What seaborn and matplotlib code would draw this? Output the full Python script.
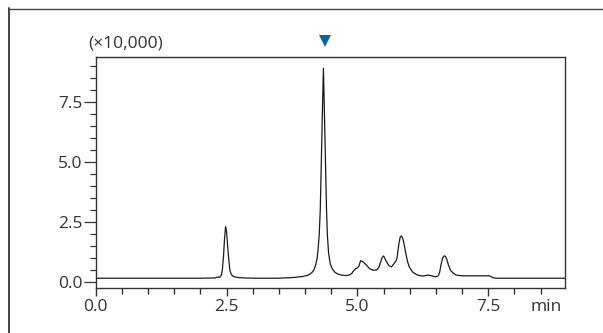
import matplotlib
matplotlib.use("Agg")
import matplotlib.pyplot as plt
import matplotlib.transforms as mtransforms
import seaborn as sns
import pandas as pd
from matplotlib.ticker import MultipleLocator, FixedLocator
from matplotlib.lines import Line2D

# Chromatogram (time in min, intensity in x10,000)
time_min = [
    0.00, 1.00, 2.00, 2.28, 2.31, 2.34, 2.37, 2.40, 2.42, 2.44, 2.46, 2.48,
    2.50, 2.52, 2.54, 2.56, 2.58, 2.61, 2.66, 2.76, 3.00, 3.50, 3.78, 3.95,
    4.05, 4.12, 4.17, 4.20, 4.23, 4.25, 4.27, 4.29, 4.305, 4.32, 4.335, 4.35,
    4.365, 4.38, 4.395, 4.41, 4.425, 4.45, 4.48, 4.52, 4.57, 4.63, 4.70, 4.78,
    4.84, 4.89, 4.92, 4.96, 5.00, 5.03, 5.06, 5.09, 5.12, 5.17, 5.23, 5.30,
    5.37, 5.41, 5.44, 5.47, 5.50, 5.52, 5.55, 5.60, 5.65, 5.70, 5.74, 5.76,
    5.78, 5.80, 5.82, 5.84, 5.86, 5.88, 5.90, 5.93, 5.96, 5.99, 6.05, 6.10,
    6.15, 6.25, 6.34, 6.40, 6.49, 6.54, 6.57, 6.60, 6.63, 6.66, 6.68, 6.71,
    6.74, 6.78, 6.83, 6.88, 6.95, 7.03, 7.30, 7.51, 7.55, 7.58, 7.64, 8.00,
    8.96,
]
intensity = [
    0.17, 0.17, 0.17, 0.18, 0.21, 0.22, 0.21, 0.30, 0.55, 1.05, 1.80, 2.32,
    2.10, 1.50, 0.98, 0.55, 0.38, 0.27, 0.22, 0.19, 0.17, 0.17, 0.20, 0.24,
    0.29, 0.38, 0.52, 0.70, 1.00, 1.40, 2.00, 3.00, 4.50, 6.00, 7.50, 8.92,
    7.50, 6.00, 4.50, 3.00, 2.00, 1.20, 0.78, 0.55, 0.42, 0.34, 0.30, 0.28,
    0.30, 0.36, 0.46, 0.56, 0.60, 0.68, 0.90, 0.88, 0.83, 0.72, 0.57, 0.50,
    0.52, 0.62, 0.82, 1.02, 1.10, 1.02, 0.88, 0.70, 0.64, 0.78, 0.90, 1.05,
    1.40, 1.70, 1.90, 1.93, 1.86, 1.72, 1.50, 1.15, 0.85, 0.65, 0.44, 0.36,
    0.30, 0.26, 0.30, 0.28, 0.23, 0.26, 0.40, 0.75, 1.02, 1.10, 1.09, 0.95,
    0.72, 0.50, 0.38, 0.31, 0.28, 0.27, 0.27, 0.27, 0.25, 0.20, 0.17, 0.17,
    0.17,
]
marker_time = 4.38
x_major_ticks = [0.0, 2.5, 5.0, 7.5]
y_major_ticks = [0.0, 2.5, 5.0, 7.5]
x_tick_labels = ["0.0", "2.5", "5.0", "7.5"]
y_tick_labels = ["0.0", "2.5", "5.0", "7.5"]
y_unit_label = "(×10,000)"
x_unit_label = "min"

df = pd.DataFrame({"time": time_min, "intensity": intensity})

sns.set_theme(style="white")
plt.rcParams["font.family"] = ["Open Sans", "DejaVu Sans"]

FS = 12.5
fig = plt.figure(figsize=(6.03, 3.33), dpi=100)
ax = fig.add_axes([95.8 / 603, 44.7 / 333, (564.6 - 95.8) / 603, (288.3 - 56.7) / 333])

sns.lineplot(data=df, x="time", y="intensity", ax=ax, color="#1a1a1a",
             linewidth=0.9, sort=False, estimator=None)

ax.set_xlim(0, 8.96)
ax.set_ylim(-0.25, 9.40)
ax.set_xlabel("")
ax.set_ylabel("")

txt_color = "#333333"
ax.xaxis.set_major_locator(FixedLocator(x_major_ticks))
ax.xaxis.set_minor_locator(MultipleLocator(0.5))
ax.yaxis.set_major_locator(FixedLocator(y_major_ticks))
ax.yaxis.set_minor_locator(MultipleLocator(0.5))
ax.set_xticklabels(x_tick_labels)
ax.set_yticklabels(y_tick_labels)

ax.tick_params(axis="x", which="major", direction="out", length=6, width=1.0,
               color="#333333", labelsize=FS, labelcolor=txt_color, pad=2,
               bottom=True)
ax.tick_params(axis="x", which="minor", direction="out", length=4, width=1.0,
               color="#333333", bottom=True)
ax.tick_params(axis="y", which="major", direction="out", length=9, width=0.9,
               color="#333333", labelsize=FS, labelcolor=txt_color, pad=0.5,
               left=True)
ax.tick_params(axis="y", which="minor", direction="out", length=4.5, width=0.9,
               color="#333333", left=True)

for s in ax.spines.values():
    s.set_visible(True)
    s.set_color("#333333")
    s.set_linewidth(1.0)

# unit labels
fig.text(88 / 603, 1 - 43 / 333, y_unit_label, ha="left", va="center",
         fontsize=FS, color=txt_color)
off = mtransforms.ScaledTranslation(0, -10.5 / 100, fig.dpi_scale_trans)
ax.text(8.6, -0.25, x_unit_label, transform=ax.transData + off, ha="center",
        va="top", fontsize=FS, color=txt_color)

# blue marker above the main peak
ax.plot([marker_time], [10.05], marker="v", markersize=8.5, color="#0b64a0",
        markeredgewidth=0, clip_on=False, linestyle="none")

# outer frame (top and left edges visible)
fig.add_artist(Line2D([8 / 603, 1.0], [1 - 8.5 / 333, 1 - 8.5 / 333],
                      transform=fig.transFigure, color="#444444", lw=1.0))
fig.add_artist(Line2D([8.5 / 603, 8.5 / 603], [0, 1 - 8 / 333],
                      transform=fig.transFigure, color="#444444", lw=1.4))

fig.savefig("out.png", dpi=100)
